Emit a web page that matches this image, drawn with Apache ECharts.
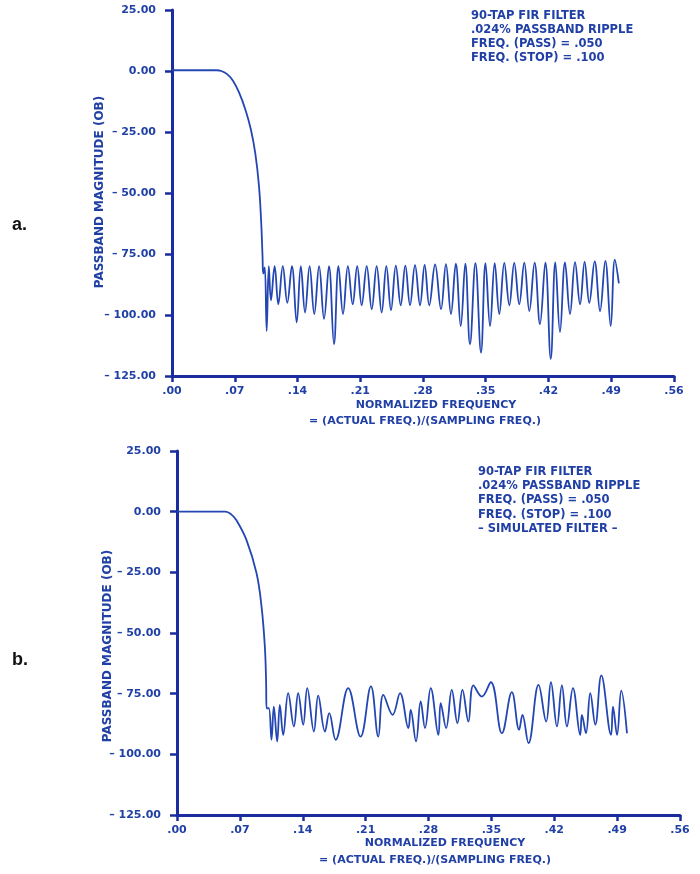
<!DOCTYPE html>
<html><head><meta charset="utf-8">
<script src="https://cdn.jsdelivr.net/npm/echarts@6/dist/echarts.min.js"></script>
<style>html,body{margin:0;padding:0;background:#fff}#c{width:700px;height:874px}</style>
</head><body><div id="c"></div>
<script>
const xTickLabels = ['.00','.07','.14','.21','.28','.35','.42','.49','.56'];
const yTickLabels = ['\u2013 125.00','\u2013 100.00','\u2013 75.00','\u2013 50.00','\u2013 25.00','0.00','25.00'];
const yAxisTitle = 'PASSBAND MAGNITUDE (OB)';
const xAxisTitle = ['NORMALIZED FREQUENCY', '= (ACTUAL FREQ.)/(SAMPLING FREQ.)'];
const notesA = ['90-TAP FIR FILTER', '.024% PASSBAND RIPPLE', 'FREQ. (PASS) = .050', 'FREQ. (STOP) = .100'];
const notesB = ['90-TAP FIR FILTER', '.024% PASSBAND RIPPLE', 'FREQ. (PASS) = .050', 'FREQ. (STOP) = .100', '\u2013 SIMULATED FILTER \u2013'];
const panelLabels = ['a.', 'b.'];

// [normalized frequency, magnitude dB]
const responseA = [
[0,0.3],[0.045,0.3],[0.050,0.3],[0.055,0],[0.0615,-1.3],[0.068,-4],[0.075,-9],[0.082,-16],[0.088,-24],[0.093,-34],[0.097,-47],[0.0995,-62],[0.101,-76],[0.1018,-83],[0.1035,-80.5],
[0.1056,-106.6],[0.1080,-80],[0.1104,-94],[0.1145,-80],[0.1186,-95.6],[0.1236,-80],[0.1286,-95],[0.1338,-80],[0.1391,-103],[0.1437,-80],[0.1484,-99],[0.1535,-80],[0.1587,-99.6],[0.1641,-80],[0.1696,-101.6],[0.1751,-80],[0.1807,-112],[0.1857,-80],[0.1908,-99.6],[0.1962,-80],[0.2016,-95.6],[0.2066,-80],[0.2116,-96],[0.2172,-80],[0.2228,-97.6],[0.2283,-80],[0.2339,-99],[0.2391,-80],[0.2443,-98],[0.2497,-79.8],[0.2551,-96],[0.2603,-79.8],[0.2655,-96],[0.2711,-79.6],[0.2767,-96],[0.2818,-79.5],[0.2870,-96],[0.2935,-79.3],[0.3001,-97.6],[0.3056,-79.2],[0.3112,-99.6],[0.3166,-79],[0.3221,-104.5],[0.3272,-79],[0.3324,-112],[0.3385,-78.8],[0.3447,-115.4],[0.3497,-78.8],[0.3548,-104.5],[0.3600,-78.7],[0.3651,-99.6],[0.3707,-78.6],[0.3763,-96],[0.3818,-78.6],[0.3874,-95.6],[0.3930,-78.5],[0.3986,-98.4],[0.4045,-78.5],[0.4105,-103.7],[0.4165,-78.5],[0.4225,-118],[0.4276,-78.4],[0.4328,-107],[0.4384,-78.4],[0.4440,-99.6],[0.4496,-78.3],[0.4552,-95.6],[0.4603,-78.2],[0.4655,-95],[0.4715,-78],[0.4775,-98.4],[0.4834,-77.8],[0.4894,-104.5],[0.4940,-77.3],[0.4985,-87]
];
const responseB = [
[0,0],[0.045,0],[0.050,0],[0.054,0],[0.060,-1],[0.066,-3.4],[0.0773,-11.6],[0.0885,-25.3],[0.0941,-39],[0.0978,-55.6],[0.0992,-70],[0.0997,-81],
[0.1022,-81],[0.1052,-94],[0.1078,-80.3],[0.1115,-94.7],[0.1145,-79.6],[0.1182,-92],[0.1238,-74.8],[0.1301,-88.5],[0.1349,-74.8],[0.1405,-87.8],[0.1450,-72.7],[0.1524,-90.6],[0.1572,-75.8],[0.1647,-90.6],[0.1695,-83],[0.1766,-94],[0.1906,-72.7],[0.2044,-92.7],[0.2159,-72],[0.2241,-92.7],[0.2297,-75.5],[0.2401,-83.7],[0.2483,-74.8],[0.2576,-89.2],[0.2602,-81.7],[0.2661,-94.7],[0.2713,-78.2],[0.2761,-89.2],[0.2825,-72.7],[0.2910,-92],[0.2936,-78.9],[0.2996,-89.2],[0.3059,-73.4],[0.3122,-87.1],[0.3178,-73.4],[0.3244,-86.5],[0.3300,-71.6],[0.3394,-76.2],[0.3494,-70.3],[0.3617,-91.3],[0.3728,-74.4],[0.3809,-89.9],[0.3846,-83.7],[0.3913,-95.4],[0.4025,-71.4],[0.4110,-86.5],[0.4163,-70.3],[0.4230,-88.5],[0.4285,-71.6],[0.4341,-88.5],[0.4408,-72.7],[0.4489,-92],[0.4508,-83.7],[0.4553,-91.3],[0.4601,-74.8],[0.4657,-87.8],[0.4724,-67.5],[0.4832,-92],[0.4854,-80.3],[0.4899,-92],[0.4946,-73.8],[0.5010,-91.3]
];

const AX = '#1b2d9e';
const TXT = '#2140a6';
const LINE = '#2346b2';
const FONT = "'DejaVu Sans', 'Liberation Sans', sans-serif";

const grids = [
  {left:172, top:10, width:502, height:366},
  {left:177, top:451, width:503, height:364}
];

function xAxisFor(i){
  return {type:'value', gridIndex:i, min:0, max:0.56, interval:0.07,
    axisLine:{show:true, onZero:false, lineStyle:{color:AX, width:3}},
    axisTick:{show:true, inside:false, length:6, lineStyle:{color:AX, width:2.5}},
    axisLabel:{color:TXT, fontFamily:FONT, fontWeight:'bold', fontSize:11, margin:10,
      formatter:v=>xTickLabels[Math.round(v/0.07)]},
    splitLine:{show:false}};
}
function yAxisFor(i){
  return {type:'value', gridIndex:i, min:-125, max:25, interval:25,
    axisLine:{show:true, onZero:false, lineStyle:{color:AX, width:3}},
    axisTick:{show:true, inside:false, length:7, lineStyle:{color:AX, width:2.5}},
    axisLabel:{color:TXT, fontFamily:FONT, fontWeight:'bold', fontSize:11, margin:16,
      formatter:v=>yTickLabels[Math.round((v+125)/25)]},
    splitLine:{show:false}};
}

const textStyle = (size, extra)=>Object.assign({fill:TXT, font:"bold "+size+"px "+FONT}, extra);
const graphic = [];
graphic.push({type:'text', left:12, top:216, style:{text:panelLabels[0], fill:'#111', font:"bold 18px 'Liberation Sans', Arial, sans-serif"}});
graphic.push({type:'text', left:12, top:651, style:{text:panelLabels[1], fill:'#111', font:"bold 18px 'Liberation Sans', Arial, sans-serif"}});
graphic.push({type:'text', x:100, y:192, rotation:Math.PI/2, style:textStyle(12, {text:yAxisTitle, textAlign:'center', textVerticalAlign:'middle'})});
graphic.push({type:'text', x:108, y:646, rotation:Math.PI/2, style:textStyle(12, {text:yAxisTitle, textAlign:'center', textVerticalAlign:'middle'})});
graphic.push({type:'text', x:436, y:405, style:textStyle(11, {text:xAxisTitle[0], textAlign:'center', textVerticalAlign:'middle'})});
graphic.push({type:'text', x:425, y:421, style:textStyle(11, {text:xAxisTitle[1], textAlign:'center', textVerticalAlign:'middle'})});
graphic.push({type:'text', x:445, y:843, style:textStyle(11, {text:xAxisTitle[0], textAlign:'center', textVerticalAlign:'middle'})});
graphic.push({type:'text', x:435, y:860, style:textStyle(11, {text:xAxisTitle[1], textAlign:'center', textVerticalAlign:'middle'})});
notesA.forEach((t,k)=>graphic.push({type:'text', x:471, y:16+14*k, style:textStyle(11.5, {text:t, textAlign:'left', textVerticalAlign:'middle'})}));
notesB.forEach((t,k)=>graphic.push({type:'text', x:478, y:472+14.2*k, style:textStyle(11.5, {text:t, textAlign:'left', textVerticalAlign:'middle'})}));

const chart = echarts.init(document.getElementById('c'), null, {renderer:'canvas'});
chart.setOption({
  backgroundColor:'#ffffff',
  animation:false,
  grid:grids,
  xAxis:[xAxisFor(0), xAxisFor(1)],
  yAxis:[yAxisFor(0), yAxisFor(1)],
  series:[
    {type:'line', xAxisIndex:0, yAxisIndex:0, data:responseA, showSymbol:false, smooth:0.4,
      lineStyle:{color:LINE, width:1.8}, z:3},
    {type:'line', xAxisIndex:1, yAxisIndex:1, data:responseB, showSymbol:false, smooth:0.4,
      lineStyle:{color:LINE, width:1.8}, z:3}
  ],
  graphic:graphic
});
</script>
</body></html>
